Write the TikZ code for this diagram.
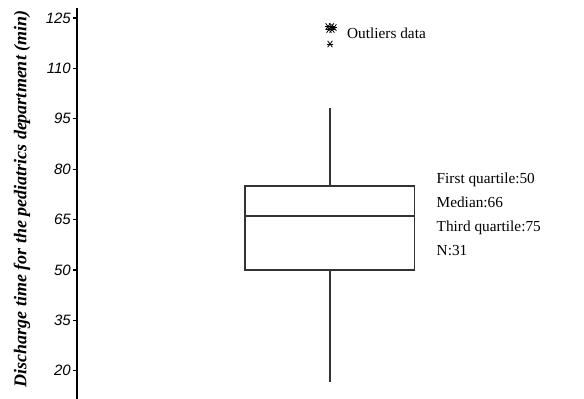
\documentclass[tikz,border=0pt]{standalone}
\usepackage{fontspec}
\setmainfont{Liberation Serif}
\newfontfamily\axfont{Liberation Sans}
\begin{document}
\begin{tikzpicture}[x=1pt,y=-1pt,
  axisline/.style={line width=1.2pt,black},
  boxline/.style={line width=1.1pt,black!80},
  ticklab/.style={anchor=east,inner sep=0pt,font=\axfont\itshape\fontsize{15}{15}\selectfont},
  infotext/.style={anchor=base west,inner sep=0pt,font=\fontsize{15.3}{15.3}\selectfont},
  ast/.style={line width=0.8pt,black}]
\useasboundingbox (0,0) rectangle (584,399);
% axis
\coordinate (atop) at (77,8);
\coordinate (abot) at (77,399);
\draw[axisline] (atop) -- (abot);
\foreach \v/\yy in {125/18,110/68.4,95/118.8,80/169.2,65/219.6,50/270,35/320.4,20/370.8}{
  \coordinate (t\v) at (77,\yy);
  \draw[axisline] (t\v) -- ++(-4,0);
  \node[ticklab] (l\v) at (71,\yy) {\v};
}
% axis title
\node[rotate=90,inner sep=0pt,font=\bfseries\itshape\fontsize{18}{18}\selectfont] (ytitle) at (22,199) {Discharge time for the pediatrics department (min)};
% whiskers
\coordinate (wtop) at (330,108);
\coordinate (wbot) at (330,382);
\draw[boxline] (wtop) -- (330,186);
\draw[boxline] (330,270) -- (wbot);
% box
\draw[boxline] (245,186) rectangle (414.5,270);
\draw[boxline] (245,216) -- (414.5,216);
% outliers
\foreach \px/\py in {328/26.5,331.5/26.5,334/27.5,329/29.5,332/29.5,330/44}{
  \begin{scope}[shift={(\px,\py)}]
    \draw[ast] (-3.4,0) -- (3.4,0);
    \draw[ast] (-2.4,-3.2) -- (2.4,3.2);
    \draw[ast] (-2.4,3.2) -- (2.4,-3.2);
  \end{scope}
}
\node[infotext] (outl) at (347,38.3) {Outliers data};
% info
\node[infotext] (q1) at (436.5,183) {First quartile:50};
\node[infotext] (med) at (436.5,207) {Median:66};
\node[infotext] (q3) at (436.5,231) {Third quartile:75};
\node[infotext] (n) at (436.5,255) {N:31};
\end{tikzpicture}
\end{document}
